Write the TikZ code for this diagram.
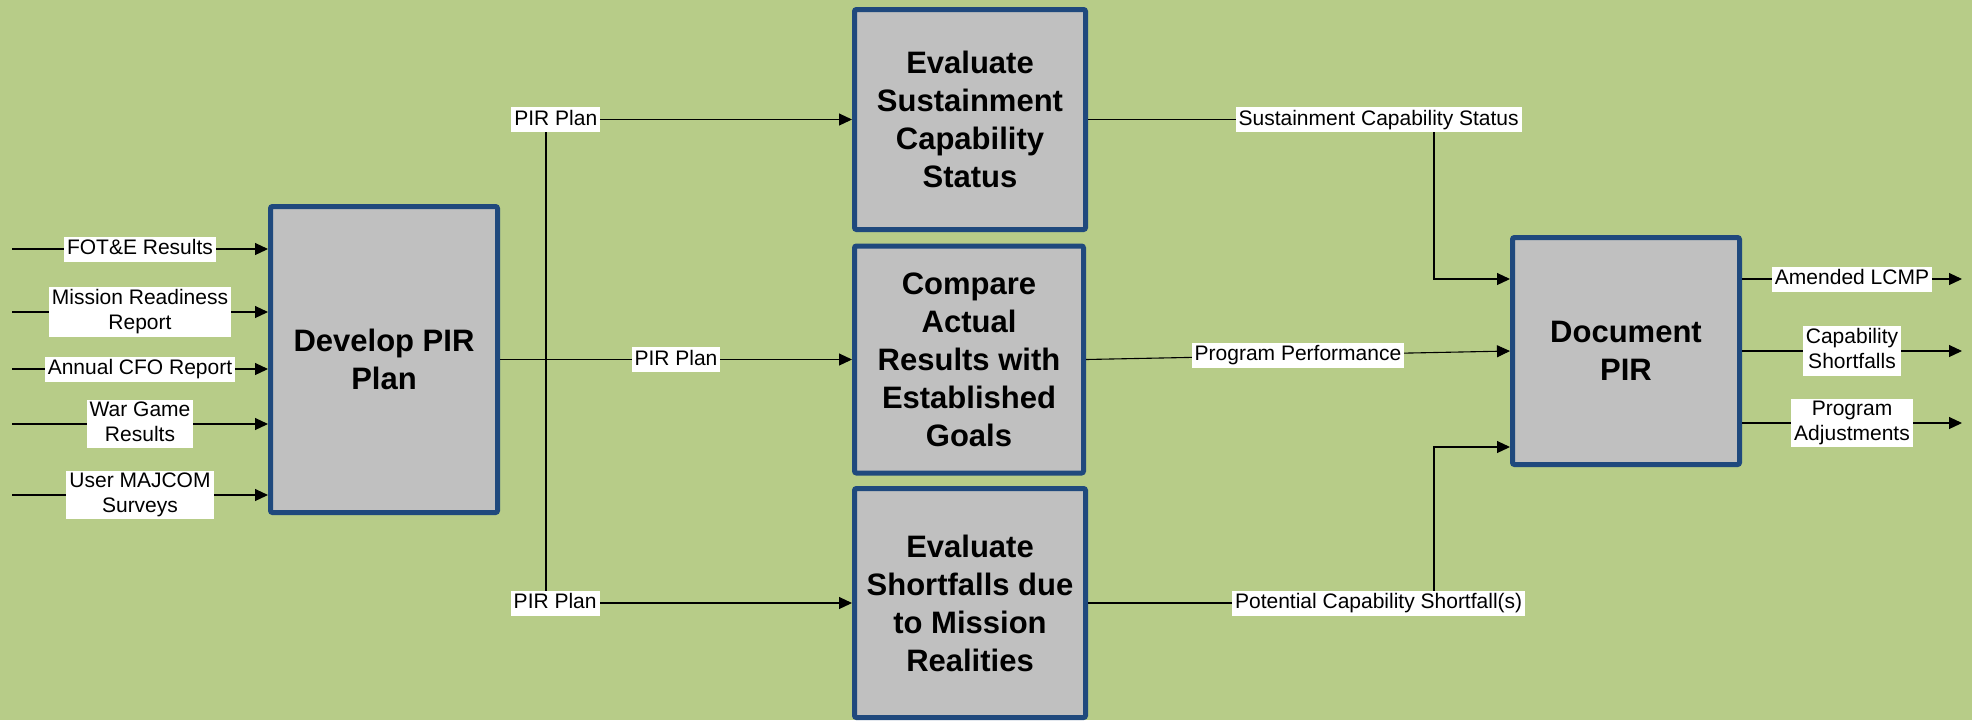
\documentclass[tikz,border=0pt]{standalone}
\usepackage{fontspec}
\setmainfont{Liberation Sans}
\usetikzlibrary{arrows.meta}
\definecolor{bggreen}{RGB}{183,204,136}
\definecolor{boxblue}{RGB}{31,73,125}
\definecolor{boxgrey}{RGB}{192,192,192}
\begin{document}
\begin{tikzpicture}[x=0.5pt,y=-0.5pt,
    proc/.style={rectangle,draw=boxblue,fill=boxgrey,line width=2.5pt,rounded corners=1pt,
      minimum width=114.5pt,minimum height=113.5pt,align=center,inner sep=0pt,
      font=\bfseries\fontsize{15.5}{19}\selectfont},
    lbl/.style={fill=white,inner xsep=1.5pt,inner ysep=1pt,align=center,
      execute at begin node=\rule{0pt}{8pt},execute at end node=\rule[-2.5pt]{0pt}{2.5pt},
      font=\fontsize{10.5}{12.5}\selectfont},
    flow/.style={line width=0.55pt,-{Triangle[length=6.5pt,width=6pt]}}]

\fill[bggreen] (0,0) rectangle (1972,720);
\useasboundingbox (0,0) rectangle (1972,720);

\node[proc,minimum width=113.5pt,minimum height=153pt] (dev) at (384,359.5) {Develop PIR\\Plan};
\node[proc,minimum width=115.5pt,minimum height=110pt] (sust) at (970,119.5) {Evaluate\\Sustainment\\Capability\\Status};
\node[proc] (comp) at (969,359.5) {Compare\\Actual\\Results with\\Established\\Goals};
\node[proc,minimum width=115.5pt,minimum height=114.5pt] (short) at (970,603) {Evaluate\\Shortfalls due\\to Mission\\Realities};
\node[proc,minimum width=113.5pt] (doc) at (1626,351) {Document\\PIR};

% inputs
\coordinate (i1) at (12,249);
\coordinate (i2) at (12,312);
\coordinate (i3) at (12,369);
\coordinate (i4) at (12,424);
\coordinate (i5) at (12,495);
\draw[flow] (i1) -- (i1 -| dev.west) node[lbl,midway] {FOT\&E Results};
\draw[flow] (i2) -- (i2 -| dev.west) node[lbl,midway] {Mission Readiness\\Report};
\draw[flow] (i3) -- (i3 -| dev.west) node[lbl,midway] {Annual CFO Report};
\draw[flow] (i4) -- (i4 -| dev.west) node[lbl,midway] {War Game\\Results};
\draw[flow] (i5) -- (i5 -| dev.west) node[lbl,midway] {User MAJCOM\\Surveys};

% PIR plan
\coordinate (br) at (546,359.5);
\draw[flow] (dev.east) -- (comp.west) node[lbl,midway] (p2) {PIR Plan};
\draw[flow] (br) |- (sust.west) node[lbl,pos=0.516] (p1) {PIR Plan};
\draw[flow] (br) |- (short.west) node[lbl,pos=0.515] (p3) {PIR Plan};

% into document
\draw[flow] (sust.east) -- ++(346,0) node[lbl,pos=0.84] (s1) {Sustainment Capability Status}
  |- ([yshift=36pt]doc.west);
\draw[flow] (comp.east) -- (doc.west) node[lbl,midway] (s2) {Program Performance};
\draw[flow] (short.east) -- ++(346,0) node[lbl,pos=0.84] (s3) {Potential Capability Shortfall(s)}
  |- ([yshift=-48pt]doc.west);

% outputs
\coordinate (o1) at (1962,279);
\coordinate (o2) at (1962,351);
\coordinate (o3) at (1962,423);
\draw[flow] (o1 -| doc.east) -- (o1) node[lbl,midway] {Amended LCMP};
\draw[flow] (o2 -| doc.east) -- (o2) node[lbl,midway] {Capability\\Shortfalls};
\draw[flow] (o3 -| doc.east) -- (o3) node[lbl,midway] {Program\\Adjustments};
\end{tikzpicture}
\end{document}
